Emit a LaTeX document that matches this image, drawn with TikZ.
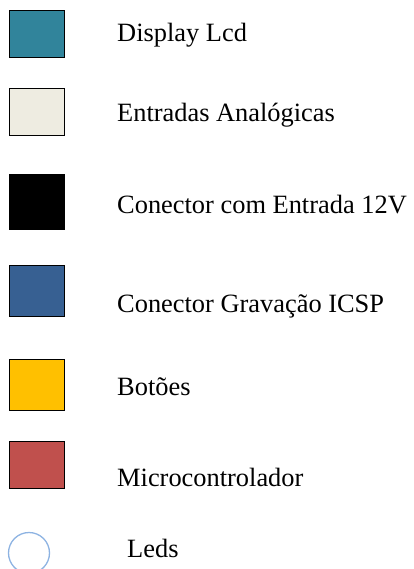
\documentclass[tikz,border=0pt]{standalone}
\usepackage{fontspec}
\setmainfont{Liberation Serif}
\definecolor{lcdteal}{HTML}{31849B}
\definecolor{analogcream}{HTML}{EEECE1}
\definecolor{icspblue}{HTML}{376092}
\definecolor{botaoyellow}{HTML}{FFC000}
\definecolor{microred}{HTML}{C0504D}
\definecolor{ledblue}{HTML}{8DB3E2}
\tikzset{
  legendbox/.style={draw=black, line width=1.6pt, minimum width=55pt, minimum height=47pt, inner sep=0pt},
  legendtext/.style={anchor=base west, inner sep=0pt, font=\fontsize{26.4}{30}\selectfont}
}
\begin{document}
\begin{tikzpicture}[x=1pt, y=-1pt]
        \useasboundingbox (0,0) rectangle (413,569);
        \node[legendbox, fill=lcdteal]       (lcd)   at (37,34)  {};
        \node[legendbox, fill=analogcream]   (ana)   at (37,112) {};
        \node[legendbox, fill=black, minimum height=54pt] (vin) at (37,202) {};
        \node[legendbox, fill=icspblue, minimum height=51pt] (icsp) at (37,291) {};
        \node[legendbox, fill=botaoyellow, minimum height=51pt] (bot) at (37,385) {};
        \node[legendbox, fill=microred]      (mcu)   at (37,465) {};
        \draw[ledblue, line width=1.3pt] (29,553) circle (20.5);

        \node[legendtext] (tlcd)  at (117,42)  {Display Lcd};
        \node[legendtext] (tana)  at (117,122) {Entradas Analógicas};
        \node[legendtext] (tvin)  at (117,213) {Conector com Entrada 12V};
        \node[legendtext] (ticsp) at (117,312) {Conector Gravação ICSP};
        \node[legendtext] (tbot)  at (117,395) {Botões};
        \node[legendtext] (tmcu)  at (117,486) {Microcontrolador};
        \node[legendtext] (tled)  at (127,557) {Leds};
    \end{tikzpicture}
\end{document}
